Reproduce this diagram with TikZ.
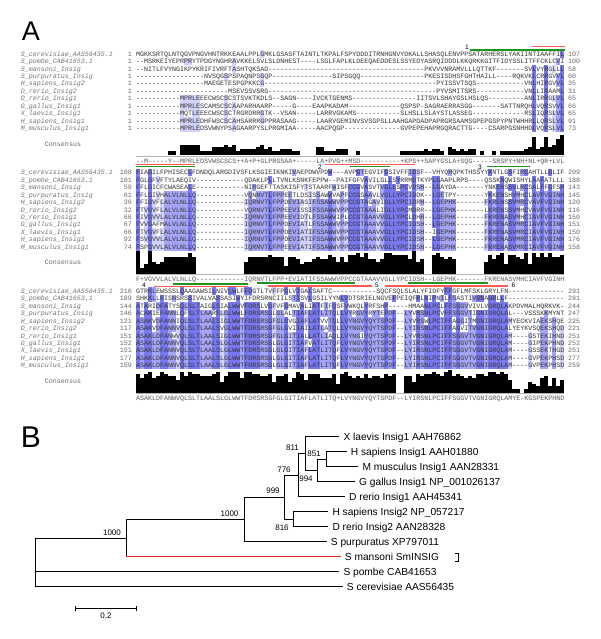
\documentclass[tikz,border=0pt]{standalone}
\usepackage{fontspec}
\setmainfont{Liberation Sans}
\setmonofont{Liberation Mono}
\usetikzlibrary{positioning}
\definecolor{pidhi}{RGB}{120,120,240}
\definecolor{pidmid}{RGB}{165,165,247}
\definecolor{pidlo}{RGB}{210,210,250}
\definecolor{tmred}{RGB}{255,90,90}
\definecolor{tmgreen}{RGB}{30,150,30}
\definecolor{smred}{RGB}{235,30,30}

\tikzset{
  seqtext/.style={font=\ttfamily\fontsize{6.67}{7}\selectfont, text=black!80, inner sep=0pt, anchor=west, text height=4.6pt, text depth=0pt},
  seqname/.style={seqtext, font=\ttfamily\itshape\fontsize{6.67}{7}\selectfont, text=black!55},
  seqnum/.style={seqtext, text=black!60},
  conslabel/.style={seqtext, anchor=center, text=black!60},
  tmline/.style={line width=1.2pt},
  tmnum/.style={font=\fontsize{6.5}{7}\selectfont, inner sep=0pt},
  branch/.style={line width=0.9pt},
  taxon/.style={font=\fontsize{10.2}{12}\selectfont, anchor=west, inner xsep=4pt, inner ysep=0pt, text height=7.3pt, text depth=0pt},
  boot/.style={font=\fontsize{8}{9}\selectfont, inner sep=0pt},
  panel/.style={font=\fontsize{27}{27}\selectfont, inner sep=0pt}
}

\ExplSyntaxOn
% run of gap characters
\cs_new:Npn \gaps #1 { \prg_replicate:nn {#1} {-} }
\seq_new:N \l_aln_rows_seq
\seq_new:N \l_aln_col_seq
\clist_new:N \l_aln_rows_clist
\int_new:N \l_aln_best_int
\int_new:N \l_aln_n_int
\int_new:N \l_aln_row_int
\tl_new:N \l_aln_best_tl
\tl_new:N \l_aln_ch_tl
\tl_new:N \l_aln_x_tl
\tl_new:N \l_aln_y_tl
\tl_new:N \l_aln_h_tl
\tl_new:N \l_aln_fill_tl
% percent identity shading and consensus bars of one block
\NewDocumentCommand \shadeblock { m m }
  {
    \clist_set:Nx \l_aln_rows_clist {#2}
    \seq_set_from_clist:NN \l_aln_rows_seq \l_aln_rows_clist
    \int_step_inline:nn { 107 }
      {
        \seq_clear:N \l_aln_col_seq
        \seq_map_inline:Nn \l_aln_rows_seq
          {
            \tl_set:Nx \l_aln_ch_tl { \str_item:nn {####1} {##1} }
            \tl_if_empty:NT \l_aln_ch_tl { \tl_set:Nn \l_aln_ch_tl {-} }
            \seq_put_right:NV \l_aln_col_seq \l_aln_ch_tl
          }
        \int_zero:N \l_aln_best_int
        \tl_clear:N \l_aln_best_tl
        \seq_map_inline:Nn \l_aln_col_seq
          {
            \str_if_eq:nnF {####1} {-}
              {
                \int_zero:N \l_aln_n_int
                \seq_map_inline:Nn \l_aln_col_seq
                  { \str_if_eq:nnT {####1} {########1} { \int_incr:N \l_aln_n_int } }
                \int_compare:nNnT \l_aln_n_int > \l_aln_best_int
                  {
                    \int_set_eq:NN \l_aln_best_int \l_aln_n_int
                    \tl_set:Nn \l_aln_best_tl {####1}
                  }
              }
          }
        \tl_set:Nx \l_aln_x_tl { \fp_eval:n { 136 + 4 * (##1 - 1) } }
        \int_compare:nNnT \l_aln_best_int > 1
          {
            \tl_set:Nx \l_aln_y_tl { \fp_eval:n { #1 + 101.5 } }
            \tl_set:Nx \l_aln_h_tl { \fp_eval:n { -23 * \l_aln_best_int / 11 } }
            \fill[black] (\l_aln_x_tl,\l_aln_y_tl) rectangle ++(4,\l_aln_h_tl);
          }
        \int_compare:nNnT \l_aln_best_int > 4
          {
            \tl_set:Nx \l_aln_fill_tl
              {
                \int_compare:nNnTF \l_aln_best_int > 8 {pidhi}
                  { \int_compare:nNnTF \l_aln_best_int > 6 {pidmid} {pidlo} }
              }
            \int_zero:N \l_aln_row_int
            \seq_map_inline:Nn \l_aln_col_seq
              {
                \int_incr:N \l_aln_row_int
                \str_if_eq:VnT \l_aln_best_tl {####1}
                  {
                    \tl_set:Nx \l_aln_y_tl { \fp_eval:n { #1 - 3.71 + 7.42 * (\l_aln_row_int - 1) } }
                    \fill[fill=\l_aln_fill_tl] (\l_aln_x_tl,\l_aln_y_tl) rectangle ++(4,7.42);
                  }
              }
          }
      }
  }
\ExplSyntaxOff

\def\alnnames{S\_cerevisiae\_AAS56435.1, S\_pombe\_CAB41653.1, S\_mansoni\_Insig, S\_purpuratus\_Insig,
  H\_sapiens\_Insig2, D\_rerio\_Insig2, D\_rerio\_Insig1, G\_gallus\_Insig1, X\_laevis\_Insig1,
  H\_sapiens\_Insig1, M\_musculus\_Insig1}

\def\blkA{MGKKSRTQLNTQGVPNGVHNTRKKEAALPPLGMKLGSASFTAINTLTKPALFSPYDDDITRNHGNVYDKALLSHASQLENVPPSATARHERSLYAKIINTIAAFFIL,
  \gaps{2}MSRKEIYEPRPRYTPDGYNGHRAVKKELSVLSLDNHEST\gaps{4}LSGLFAPLKLDEEQAEDDESLSSYEDYASRQIDDDLKKQRKKGITFIDYSSLITFFCKLCVI,
  \gaps{2}NITLFVYNGIKPYKRIFIVRFTASHTQKSAD\gaps{39}PKVVVNRAMVLLLQTTKF\gaps{7}SVLVYRGLLL,
  \gaps{17}NVSQGSPSPAQNPSGQP\gaps{15}SIPSGQQ\gaps{16}PKESISDHSFGHTHAILL\gaps{4}RQKVKLCRRGVVL,
  \gaps{17}MAEGETESPGPKKCG\gaps{43}PYISSVTSQS\gaps{12}VNLHIRGVVL,
  \gaps{23}MSEVSSVSRG\gaps{42}PYVSMITSRS\gaps{12}VNLLIRAAML,
  \gaps{11}MPRLEEECWSCSCSTSVKTKDLS\gaps{2}SAGN\gaps{4}IVCKTGENMS\gaps{16}IITSVLSHAYGSLHSLQS\gaps{9}ANLIRRGLVL,
  \gaps{11}MPRLESCAMSCSCAAPARHAARP\gaps{5}G\gaps{4}EAAPKADAM\gaps{13}QSPSP-SAGRAERRASGG\gaps{7}SATTNRQHLVQRSVVL,
  \gaps{11}MQTLEEECWSCSCTRGRDRRGTK\gaps{2}VSAN\gaps{5}LARRVGKAMS\gaps{11}SLHSLLSLAYSTLASSEG\gaps{13}RSLIQRSLVL,
  \gaps{11}MPRLEDHFWSCSCAHSARRRGPPRASAAG\gaps{5}LAARVGEMINVSVSGPSLLAAHGAPDADPAPRGRSAAMSGPEPGSPYPNTWHHRLLQRSLVL,
  \gaps{11}MPRLEDSVWNYPSAGAARPYSLPRGMIAA\gaps{5}AACPQGP\gaps{14}GVPEPEHAPRGQRACTTG\gaps{4}CSARPGSNHHDLVQRSLVL}
\def\consA{\gaps{2}M\gaps{5}Y\gaps{2}MPRLEDSVWSCSCS++A+P+GLPRGSAA+\gaps{5}LA+PVG++MSD\gaps{10}+KPS++SAPYGSLA+SQG\gaps{5}SRSPY+NH+NL+QR+LVL}
\def\numA{1/107,1/100,1/58,1/60,1/35,1/31,1/65,1/66,1/65,1/91,1/73}

\def\blkB{FIAGILFPHISECLFDNDQLARGDIVSFLKSGIEIKNKIVAEPDWVPDW\gaps{3}AVPGTEGVIFGSIVFFIDSF\gaps{2}VHYQHQPKTHSSYYKNTLGSFIRCAHTLLGLIF,
  FGLGFVFTYLAEQIV\gaps{12}QDAKLPLLTVNLKSNKFEPPW\gaps{2}PAIFGFVAVILGLLSYRRMDTKYPLGAAPLRPS\gaps{4}QSSKNQWISHYLAAFATLLL,
  FFLGICFCWASEALE\gaps{12}NIRGEFTTASKISFYTSTAARFWISFCCGVASVTVGLLSPCVDSH\gaps{2}LGAYDA\gaps{7}YNKENSSVLRCSALFFGFSH,
  FFLGIVHALVLNLLQ\gaps{12}VQNNVTLFPPEETLDSISSAWWVAPFCCGSAAVLVGLLYPCIDDK\gaps{2}LGETPY\gaps{7}YKKENSHVMHCLAVFVGINH,
  FFIGVFLALVLNLLQ\gaps{12}IQRNVTLFPPDEVIASIFSSAWWVPPCCGTAGAVIGLLYPCIDRH\gaps{2}LGEPHK\gaps{7}FKRENSSVMRCVAVFVGINH,
  FTVGVFLALVLNLLQ\gaps{12}VQRNVTLFPPEEVISSIFSSAWWVPPCCGTAAALIGLLYPCMDRR\gaps{2}LGEPHK\gaps{7}LKRENSSVMHCVAVFVGINH,
  FIVGVVLALVLNLLQ\gaps{12}IQRNVTLFPPEEVIDTLFSSAWWIPLCCGTAAAVVGLLYPCLDHH\gaps{2}LGEPHK\gaps{7}FKRENASVMHCIAVFVGINH,
  FVVGAFMALVLNLLQ\gaps{12}IQRNVTLFPPDEVIATLFSSAWWVPPCCGTAAAVVGLLYPCIDSH\gaps{2}LGEPHK\gaps{7}FKRENASVMRCIAVFVGINH,
  FTVGVFLALVLNLLQ\gaps{12}IQRNVTLFPPDEVIATIFSSAWWVPPCCGTAAAVVGLLYPCIDSH\gaps{2}IGEPHK\gaps{7}FKRENASVMRCIAVFVGINH,
  FSVGVVLALVLNLLQ\gaps{12}IQRNVTLFPPDEVIATIFSSAWWVPPCCGTAAAVVGLLYPCIDSH\gaps{2}LGEPHK\gaps{7}FKRENASVMRCIAVFVGINH,
  FSPGVVLALVLNLLQ\gaps{12}IQRNVTLFPPEEVIATIFSSAWWVPPCCGTAAAVVGLLYPCIDSH\gaps{2}LGEPHK\gaps{7}FKRENASVMRCIAVFVGINH}
\def\consB{F+VGVVLALVLNLLQ\gaps{12}IQRNVTLFPP+EVIATIFSSAWWVPPCCGTAAAVVGLLYPCIDSH\gaps{2}LGEPHK\gaps{7}FKRENASVMHCIAVFVGINH}
\def\numB{108/209,101/188,59/143,61/145,36/120,32/116,66/150,67/151,66/150,92/176,74/158}

\def\blkC{GTRKLEWSSSLQAAGAWSILNIVLWLFFDGTLTVFFPGLVIGALSAFTC\gaps{11}SQCFSQLSLALYFIDFYFFGFLMFSKLGRYLFN\gaps{14},
  SHKKLLFISNSRSSIVALVASSASIWYIFDRSRNCIILSTISVLGSILYYNLVDTSRIELNGVEFPEIQFRLNIPNILFSASTIVGNAGRLLF\gaps{14},
  ATARIDFATYSQLSLTAIGLSIALWWVFDRSLVGFVFGMAVALIATFIFQSFVWKQLYRFSHP\gaps{5}HMAANLPCLFFSGGVVIVLVGRQLAKPDVMALHQRKVK-,
  ACAKIEFANNLQFSLTLAARSLGLWWLFDRSRSGLGLALTIAFLATLITQLLVYRGVYRYTEPDF\gaps{2}LYVRSNLPCVFFSGGVTIGNIGRQLAL\gaps{3}VSSSKKMYNT,
  ASAKVDFANNIQLSLTLAALSIGLWWTFDRSRSGFGLGVGIAFLATVVTQLLVYNGVYQYTSPDF\gaps{2}LYVRSWLPCIFFAGGITMGNIGRQLAMYECKVIAEKSHQE,
  ASAKVDFANNVQLSLTLAALSVGLWWTFDRSRSGFGLGVIIAILATLATQLLVYNGVYQYTSPDF\gaps{2}LYIRSNLPCIFFAGVITVGNIGRQLALYEYKVSQEKSHQD,
  ASAKLDFANWVQLSLTLAALSIGLWWTFDRSRSGFGLGITIALLATLIAQLLVYNGIYQYTSPDF\gaps{2}LYVRSNLPCIFFSGGVTVGNIGRQLAM\gaps{4}GSTEKIHND,
  ASAKLDFANNVQLSLTLAALSLGLWWTFDRSRSGLGLGITIAFVATLITQFLVYNGVYQYTSPDF\gaps{2}LYIRSNLPCIFFSGGVTVGNIGRQLAM\gaps{4}GIPEKPHND,
  ASAKLDFANNVQLSLTLAALSLGLWWTFDRSRSGLGLGITIAFLATLITQFLVYNGVYQYTSPDF\gaps{2}LYIRSNLPCIFFSGGVTVGNIGRQLAM\gaps{4}GSSEKTHGD,
  ASAKLDFANNVQLSLTLAALSLGLWWTFDRSRSGLGLGITIAFLATLITQFLVYNGVYQYTSPDF\gaps{2}LYIRSNLPCIFFSGGVTVGNIGRQLAM\gaps{4}GVPEKPHSD,
  ASAKLDFANNVQLSLTLAALSLGLWWTFDRSRSGLGLGITIAFLATLITQFLVYNGVYQYTSPDF\gaps{2}LYIRSNLPCIFFSGGVTVGNIGRQLAM\gaps{4}GVPEKPHSD}
\def\consC{ASAKLDFANWVQLSLTLAALSLGLWWTFDRSRSGFGLGITIAFLATLITQ+LVYNGVYQYTSPDF\gaps{2}LYIRSNLPCIFFSGGVTVGNIGRQLAMYE-KGSPEKPHND}
\def\numC{210/291,189/281,144/244,146/247,121/225,117/221,151/251,152/252,151/251,177/277,159/259}

% one alignment block: #1 id, #2 y of first row, #3 rows, #4 numbers, #5 consensus
\newcommand{\drawblock}[5]{%
  \shadeblock{#2}{#3}
  \foreach \sq [count=\r] in #3 {
    \node[seqtext] (#1seq\r) at (136,{#2+7.42*(\r-1)}) {\sq};
  }
  \foreach \nm [count=\r] in \alnnames {
    \node[seqname] (#1name\r) at (20.7,{#2+7.42*(\r-1)}) {\nm};
  }
  \foreach \st/\en [count=\r] in #4 {
    \node[seqnum, anchor=east] (#1st\r) at (132,{#2+7.42*(\r-1)}) {\st};
    \node[seqnum] (#1en\r) at (568,{#2+7.42*(\r-1)}) {\en};
  }
  \node[conslabel] (#1clab) at (63,{#2+90}) {Consensus};
  \draw[black!30, line width=0.6pt] (136,{#2+102}) -- (564,{#2+102});
  \node[seqtext, text=black!65] (#1cons) at (136,{#2+107}) {#5};
}

\begin{document}
\begin{tikzpicture}[x=1pt,y=-1pt]
\useasboundingbox (0,0) rectangle (600,639);
% A: alignment
\node[panel] (labA) at (31,31) {A};
\drawblock{a}{54}{\blkA}{\numA}{\consA}
\drawblock{b}{172.6}{\blkB}{\numB}{\consB}
\drawblock{c}{291.2}{\blkC}{\numC}{\consC}
% membrane segments
\node[tmnum] (tm1) at (467,47.2) {1};
\draw[tmline,tmgreen] (470,50) -- (565,50);
\draw[tmline,tmred] (532,46.7) -- (565,46.7);
\draw[tmline,tmred] (136,164.3) -- (195,164.3);
\draw[tmline,tmgreen] (136,166.7) -- (195,166.7);
\node[tmnum] (tm2) at (320,166.8) {2};
\draw[tmline,tmred] (325,164.3) -- (415,164.3);
\draw[tmline,tmgreen] (350,166.7) -- (390,166.7);
\node[tmnum] (tm3) at (480,166.8) {3};
\draw[tmline,tmgreen] (486.7,166.7) -- (530,166.7);
\node[tmnum] (tm4) at (144,285) {4};
\draw[tmline,tmgreen] (172.7,284) -- (248.3,284);
\draw[tmline,tmred] (154,286.7) -- (248.3,286.7);
\draw[tmline,tmgreen] (256.7,283) -- (355,283);
\draw[tmline,tmred] (268.3,286) -- (371.7,286);
\node[tmnum] (tm5) at (377,284.8) {5};
\draw[tmline,tmred] (385,286) -- (508.3,286);
\draw[tmline,tmgreen] (408.3,283) -- (488.3,283);
\node[tmnum] (tm6) at (513.3,285) {6};

% B: tree
\node[panel, font=\fontsize{30}{30}\selectfont] (labB) at (31,437.5) {B};
\coordinate (root) at (35,562);
\coordinate (n1) at (126,538);
\coordinate (n2) at (244.3,519.5);
\coordinate (n3) at (284,497.3);
\coordinate (n4) at (298.3,475.4);
\coordinate (n5) at (305,453.7);
\coordinate (n6) at (317.3,470.5);
\coordinate (n7) at (293.3,519.2);
\coordinate (n8) at (326.7,459.2);
\node[taxon] (xl1) at (339.3,436.7) {X laevis Insig1 AAH76862};
\node[taxon] (hs1) at (346.7,451.7) {H sapiens Insig1 AAH01880};
\node[taxon] (mm1) at (358.3,466.7) {M musculus Insig1 AAN28331};
\node[taxon] (gg1) at (355,481.7) {G gallus Insig1 NP\_001026137};
\node[taxon] (dr1) at (345,496.7) {D rerio Insig1 AAH45341};
\node[taxon] (hs2) at (328.3,511.7) {H sapiens Insig2 NP\_057217};
\node[taxon] (dr2) at (328.3,526.7) {D rerio Insig2 AAN28328};
\node[taxon] (spu) at (326.7,541.7) {S purpuratus XP797011};
\node[taxon] (sma) at (340.7,556.7) {S mansoni SmINSIG};
\node[taxon] (spo) at (339.3,571.7) {S pombe CAB41653};
\node[taxon] (sce) at (342.7,586.7) {S cerevisiae AAS56435};
\draw[branch] (root) |- (n1);
\draw[branch] (root) |- (spo.west);
\draw[branch] (root) |- (sce.west);
\draw[branch] (n1) |- (n2);
\draw[branch] (n1) -- (n1 |- sma.west);
\draw[branch,smred] (n1 |- sma.west) -- (sma.west);
\draw[branch] (n2) |- (n3);
\draw[branch] (n2) |- (spu.west);
\draw[branch] (n3) |- (n4);
\draw[branch] (n3) |- (n7);
\draw[branch] (n4) |- (n5);
\draw[branch] (n4) |- (dr1.west);
\draw[branch] (n5) |- (xl1.west);
\draw[branch] (n5) |- (n6);
\draw[branch] (n6) |- (n8);
\draw[branch] (n6) |- (gg1.west);
\draw[branch] (n8) |- (hs1.west);
\draw[branch] (n8) |- (mm1.west);
\draw[branch] (n7) |- (hs2.west);
\draw[branch] (n7) |- (dr2.west);
% bootstrap values
\node[boot] (bs1) at (112,532.3) {1000};
\node[boot] (bs2) at (229.5,513.7) {1000};
\node[boot] (bs3) at (273,491) {999};
\node[boot] (bs4) at (284,469.3) {776};
\node[boot] (bs5) at (292.5,447.3) {811};
\node[boot] (bs6) at (314,453.3) {851};
\node[boot] (bs7) at (306,478.3) {994};
\node[boot] (bs8) at (282,527.3) {816};
\draw[line width=0.6pt] (455,553) -- (458.5,553) -- (458.5,561) -- (455,561);
% scale bar
\coordinate (sbl) at (75.3,608.3);
\coordinate (sbr) at (136.7,608.3);
\draw[line width=0.7pt] (sbl) -- (sbr);
\draw[line width=0.7pt] ([yshift=-2.5pt]sbl) -- ([yshift=2.5pt]sbl);
\draw[line width=0.7pt] ([yshift=-2.5pt]sbr) -- ([yshift=2.5pt]sbr);
\node[boot] (sblab) at (106,615.7) {0.2};
\end{tikzpicture}
\end{document}
